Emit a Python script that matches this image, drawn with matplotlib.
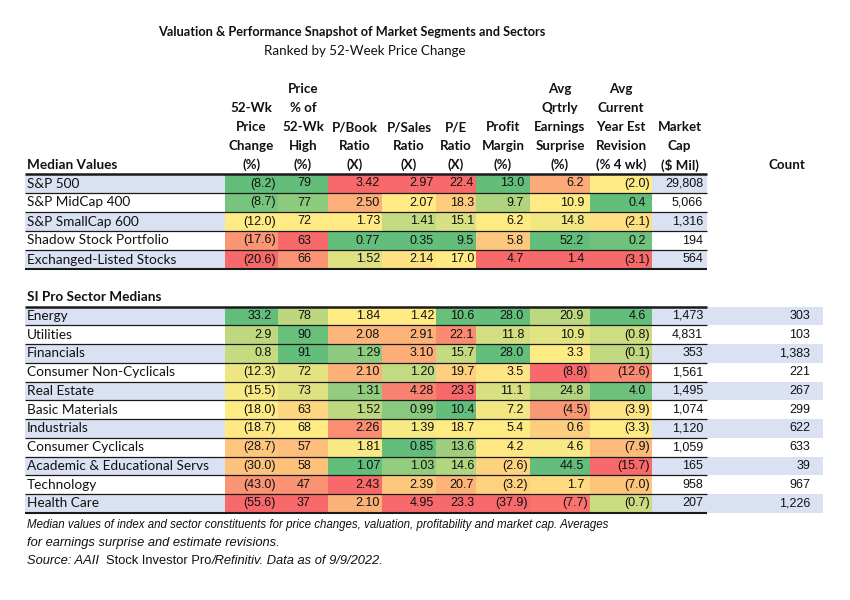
import numpy as np
import matplotlib
matplotlib.use("Agg")
import matplotlib.pyplot as plt
from matplotlib.colors import LinearSegmentedColormap, TwoSlopeNorm
from matplotlib.patches import Rectangle

title = "Valuation & Performance Snapshot of Market Segments and Sectors"
subtitle = "Ranked by 52-Week Price Change"

col_headers = [
    ["52-Wk", "Price", "Change", "(%)"],
    ["Price", "% of", "52-Wk", "High", "(%)"],
    ["P/Book", "Ratio", "(X)"],
    ["P/Sales", "Ratio", "(X)"],
    ["P/E", "Ratio", "(X)"],
    ["Profit", "Margin", "(%)"],
    ["Avg", "Qrtrly", "Earnings", "Surprise", "(%)"],
    ["Avg", "Current", "Year Est", "Revision", "(% 4 wk)"],
    ["Market", "Cap", "($ Mil)"],
]

segments = ["S&P 500", "S&P MidCap 400", "S&P SmallCap 600",
            "Shadow Stock Portfolio", "Exchanged-Listed Stocks"]
seg_price_chg = [-8.2, -8.7, -12.0, -17.6, -20.6]
seg_pct_high = [79, 77, 72, 63, 66]
seg_pbook = [3.42, 2.50, 1.73, 0.77, 1.52]
seg_psales = [2.97, 2.07, 1.41, 0.35, 2.14]
seg_pe = [22.4, 18.3, 15.1, 9.5, 17.0]
seg_margin = [13.0, 9.7, 6.2, 5.8, 4.7]
seg_surprise = [6.2, 10.9, 14.8, 52.2, 1.4]
seg_revision = [-2.0, 0.4, -2.1, 0.2, -3.1]
seg_mktcap = [29808, 5066, 1316, 194, 564]

sectors = ["Energy", "Utilities", "Financials", "Consumer Non-Cyclicals",
           "Real Estate", "Basic Materials", "Industrials", "Consumer Cyclicals",
           "Academic & Educational Servs", "Technology", "Health Care"]
sec_price_chg = [33.2, 2.9, 0.8, -12.3, -15.5, -18.0, -18.7, -28.7, -30.0, -43.0, -55.6]
sec_pct_high = [78, 90, 91, 72, 73, 63, 68, 57, 58, 47, 37]
sec_pbook = [1.84, 2.08, 1.29, 2.10, 1.31, 1.52, 2.26, 1.81, 1.07, 2.43, 2.10]
sec_psales = [1.42, 2.91, 3.10, 1.20, 4.28, 0.99, 1.39, 0.85, 1.03, 2.39, 4.95]
sec_pe = [10.6, 22.1, 15.7, 19.7, 23.3, 10.4, 18.7, 13.6, 14.6, 20.7, 23.3]
sec_margin = [28.0, 11.8, 28.0, 3.5, 11.1, 7.2, 5.4, 4.2, -2.6, -3.2, -37.9]
sec_surprise = [20.9, 10.9, 3.3, -8.8, 24.8, -4.5, 0.6, 4.6, 44.5, 1.7, -7.7]
sec_revision = [4.6, -0.8, -0.1, -12.6, 4.0, -3.9, -3.3, -7.9, -15.7, -7.0, -0.7]
sec_mktcap = [1473, 4831, 353, 1561, 1495, 1074, 1120, 1059, 165, 958, 207]
sec_count = [303, 103, 1383, 221, 267, 299, 622, 633, 39, 967, 1226]

notes = [
    "Median values of index and sector constituents for price changes, valuation, profitability and market cap. Averages",
    "for earnings surprise and estimate revisions.",
]

# Mise en forme (positions en pixels)
FONT = "Lato"
NUMFONT = "Liberation Sans"
X_NAME = 25
EDGES = [225, 278, 328, 382, 436, 476, 530, 590, 652, 707]
X_COUNT_END = 823
BAND = "#D9E1F2"
TXT = "#111111"

decimals = [1, 0, 2, 2, 1, 1, 1, 1, 0]
paren_cols = [0, 5, 6, 7]            # colonnes ou les negatifs sont entre ()
higher_better = [True, True, False, False, False, True, True, True, None]

excel_scale = LinearSegmentedColormap.from_list(
    "excel", ["#F8696B", "#FFEB84", "#63BE7B"])


def scale_colors(values, good_high):
    v = np.asarray(values, float)
    norm = TwoSlopeNorm(vmin=v.min(), vcenter=np.median(v), vmax=v.max())
    cmap = excel_scale if good_high else excel_scale.reversed()
    return cmap(norm(v))


def fmt(val, ndec):
    s = f"{abs(val):,.{ndec}f}"
    return f"({s})" if val < 0 else s


def draw_block(ax, names, columns, y_top, row_h, counts=None):
    n = len(names)
    for i, name in enumerate(names):
        y0 = y_top + i * row_h
        yc = y0 + row_h / 2
        if i % 2 == 0:
            ax.add_patch(Rectangle((X_NAME, y0), EDGES[0] - X_NAME, row_h,
                                   color=BAND, lw=0))
            ax.add_patch(Rectangle((EDGES[8], y0), EDGES[9] - EDGES[8], row_h,
                                   color=BAND, lw=0))
            if counts is not None:
                ax.add_patch(Rectangle((EDGES[9], y0), X_COUNT_END - EDGES[9],
                                       row_h, color=BAND, lw=0))
        ax.text(X_NAME + 2, yc, name, fontsize=9.8, family=FONT, color=TXT,
                va="center", ha="left")
        if counts is not None:
            ax.text(810, yc, f"{counts[i]:,}", fontsize=9, family=NUMFONT,
                    color=TXT, va="center", ha="right")

    for j, vals in enumerate(columns):
        x0, x1 = EDGES[j], EDGES[j + 1]
        if higher_better[j] is not None:
            colors = scale_colors(vals, higher_better[j])
        for i, val in enumerate(vals):
            y0 = y_top + i * row_h
            yc = y0 + row_h / 2
            if higher_better[j] is not None:
                ax.add_patch(Rectangle((x0, y0), x1 - x0, row_h,
                                       color=colors[i], lw=0))
            if j == 1:
                ax.text((x0 + x1) / 2 + 1, yc, fmt(val, 0), fontsize=9,
                        family=NUMFONT, color=TXT, va="center", ha="center")
                continue
            xr = x1 - (4 if j == 8 else 2)
            if j in paren_cols and val >= 0:
                xr -= 4
            ax.text(xr, yc, fmt(val, decimals[j]), fontsize=9, family=NUMFONT,
                    color=TXT, va="center", ha="right")

    # traits horizontaux
    for i in range(1, n):
        y = y_top + i * row_h
        ax.plot([X_NAME, EDGES[-1]], [y, y], color="#1a1a1a", lw=0.9,
                solid_capstyle="butt")
    ax.plot([X_NAME, EDGES[-1]], [y_top, y_top], color="#1a1a1a", lw=1.8,
            solid_capstyle="butt")
    y_end = y_top + n * row_h
    ax.plot([X_NAME, EDGES[-1]], [y_end, y_end], color="#1a1a1a", lw=1.5,
            solid_capstyle="butt")


fig = plt.figure(figsize=(8.5, 6), dpi=100)
ax = fig.add_axes([0, 0, 1, 1])
ax.set_xlim(0, 850)
ax.set_ylim(600, 0)
ax.axis("off")

ax.text(352, 32, title, fontsize=9.2, family=FONT, weight="bold", color=TXT,
        ha="center", va="center")
ax.text(365, 51, subtitle, fontsize=9.6, family=FONT, color=TXT,
        ha="center", va="center")

# en-tetes de colonnes
for j, lines in enumerate(col_headers):
    xc = (EDGES[j] + EDGES[j + 1]) / 2
    for k, line in enumerate(reversed(lines)):
        ax.text(xc, 165 - 19 * k, line, fontsize=9.6, family=FONT,
                weight="bold", color=TXT, ha="center", va="center")
ax.text(X_NAME + 2, 165, "Median Values", fontsize=9.8, family=FONT,
        weight="bold", color=TXT, ha="left", va="center")
ax.text(787, 165, "Count", fontsize=9.6, family=FONT, weight="bold",
        color=TXT, ha="center", va="center")

seg_cols = [seg_price_chg, seg_pct_high, seg_pbook, seg_psales, seg_pe,
            seg_margin, seg_surprise, seg_revision, seg_mktcap]
draw_block(ax, segments, seg_cols, 174, 19)

ax.text(X_NAME + 2, 297, "SI Pro Sector Medians", fontsize=9.8, family=FONT,
        weight="bold", color=TXT, ha="left", va="center")
sec_cols = [sec_price_chg, sec_pct_high, sec_pbook, sec_psales, sec_pe,
            sec_margin, sec_surprise, sec_revision, sec_mktcap]
draw_block(ax, sectors, sec_cols, 306.5, 18.75, counts=sec_count)

# notes de bas de tableau
ax.text(X_NAME + 2, 525, notes[0], fontsize=8.3, family=NUMFONT,
        style="italic", color=TXT, ha="left", va="center")
ax.text(X_NAME + 2, 543, notes[1], fontsize=9.3, family=NUMFONT,
        style="italic", color=TXT, ha="left", va="center")
t1 = ax.text(X_NAME + 2, 561, "Source: AAII  ", fontsize=9.3, family=NUMFONT,
             style="italic", color=TXT, ha="left", va="center")
t2 = ax.annotate("Stock Investor Pro", xy=(1, 0), xycoords=t1, fontsize=9.3,
                 family=NUMFONT, color=TXT, ha="left", va="bottom")
ax.annotate("/Refinitiv. Data as of 9/9/2022.", xy=(1, 0), xycoords=t2,
            fontsize=9.3, family=NUMFONT, style="italic", color=TXT,
            ha="left", va="bottom")

fig.savefig("out.png", dpi=100)
